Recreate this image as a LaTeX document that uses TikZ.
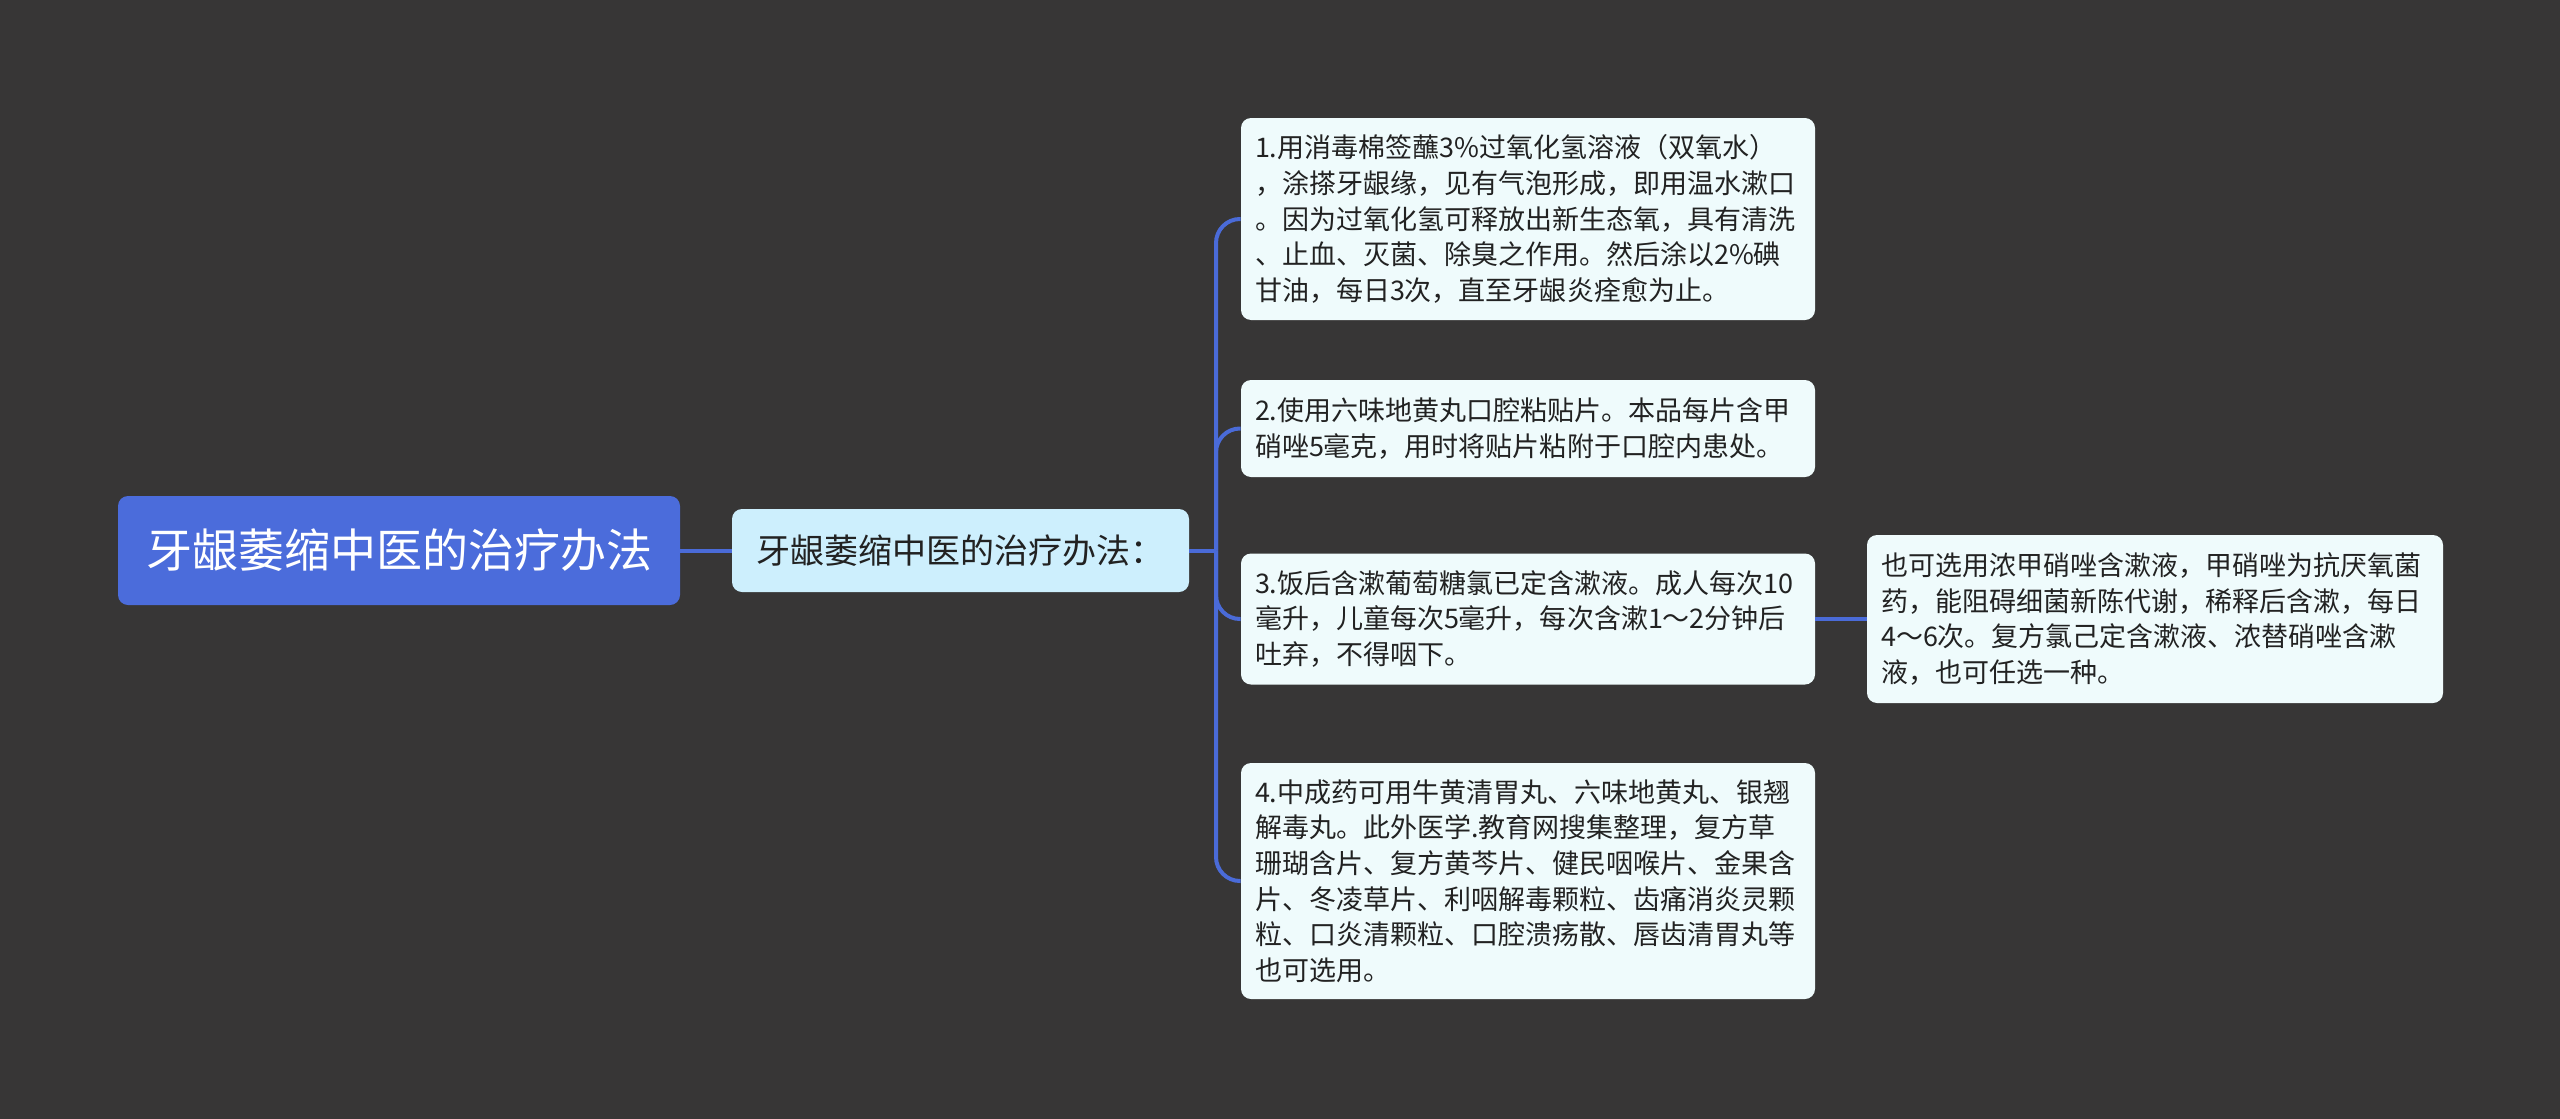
\documentclass[tikz,border=0pt]{standalone}
\usepackage{fontspec}
\setmainfont{Noto Sans CJK SC}
\definecolor{bgcol}{HTML}{373636}
\definecolor{rootcol}{HTML}{4B6CDB}
\definecolor{linkcol}{HTML}{4A6BD8}
\definecolor{subcol}{HTML}{CDEFFD}
\definecolor{leafcol}{HTML}{EFFBFC}
\definecolor{textcol}{HTML}{222222}
\begin{document}
\begin{tikzpicture}[x=0.5pt,y=-0.5pt,
    leaf/.style={fill=leafcol, rounded corners=5pt, text=textcol, align=left,
      text width=273pt, inner xsep=7pt, minimum width=287pt,
      font=\fontsize{13.5pt}{17.8pt}\selectfont},
    link/.style={draw=linkcol, line width=2pt}]
    \fill[bgcol] (0,0) rectangle (2560,1119);
    \useasboundingbox (0,0) rectangle (2560,1119);
    % root and first level
    \node[fill=rootcol, rounded corners=5pt, text=white, minimum width=281pt,
      minimum height=54.5pt, font=\fontsize{23pt}{27pt}\selectfont]
      (root) at (399,550.5) {牙龈萎缩中医的治疗办法};
    \node[fill=subcol, rounded corners=5pt, text=textcol, minimum width=228.5pt,
      minimum height=41.5pt, font=\fontsize{17pt}{20pt}\selectfont]
      (sub) at (960.5,550.5) {牙龈萎缩中医的治疗办法：};
    % leaves
    \node[leaf, minimum height=101pt] (b1) at (1528,219)
      {1.用消毒棉签蘸3\%过氧化氢溶液（双氧水）\\，涂搽牙龈缘，见有气泡形成，即用温水漱口\\。因为过氧化氢可释放出新生态氧，具有清洗\\、止血、灭菌、除臭之作用。然后涂以2\%碘\\甘油，每日3次，直至牙龈炎痊愈为止。};
    \node[leaf, minimum height=48.5pt] (b2) at (1528,428.5)
      {2.使用六味地黄丸口腔粘贴片。本品每片含甲\\硝唑5毫克，用时将贴片粘附于口腔内患处。};
    \node[leaf, minimum height=65.5pt] (b3) at (1528,619)
      {3.饭后含漱葡萄糖氯已定含漱液。成人每次10\\毫升，儿童每次5毫升，每次含漱1～2分钟后\\吐弃，不得咽下。};
    \node[leaf, minimum height=118pt] (b4) at (1528,881)
      {4.中成药可用牛黄清胃丸、六味地黄丸、银翘\\解毒丸。此外医学.教育网搜集整理，复方草\\珊瑚含片、复方黄芩片、健民咽喉片、金果含\\片、冬凌草片、利咽解毒颗粒、齿痛消炎灵颗\\粒、口炎清颗粒、口腔溃疡散、唇齿清胃丸等\\也可选用。};
    \node[leaf, minimum width=288pt, text width=274pt, minimum height=84pt] (b5) at (2155,619)
      {也可选用浓甲硝唑含漱液，甲硝唑为抗厌氧菌\\药，能阻碍细菌新陈代谢，稀释后含漱，每日\\4～6次。复方氯己定含漱液、浓替硝唑含漱\\液，也可任选一种。};
    % connectors
    \coordinate (fork) at (1216,550.5);
    \draw[link] (root.east) -- (sub.west);
    \draw[link] (sub.east) -- (fork);
    \foreach \b in {b1,b2,b3,b4}
      \draw[link, rounded corners=12pt] (fork) |- (\b.west);
    \draw[link] (b3.east) -- (b5.west);
\end{tikzpicture}
\end{document}
